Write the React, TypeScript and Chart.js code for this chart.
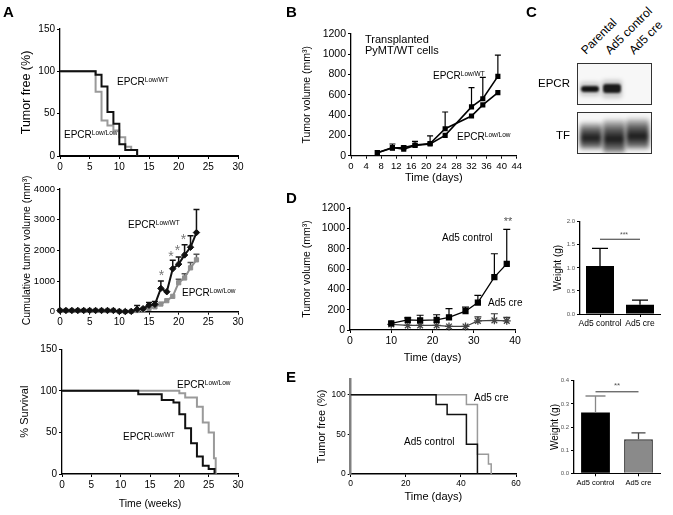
import React, { useEffect, useRef } from 'react';
import { Chart, registerables } from 'chart.js';
Chart.register(...registerables);

const FONT = "'Liberation Sans', Arial, Helvetica, sans-serif";

// ---------- Panel A (top): tumor free, weeks ----------
const a1WtWeeks = [0, 6, 7, 8, 9, 10, 11, 13];
const a1WtPct = [100, 96, 82, 52, 38, 14, 7, 0];
const a1LowWeeks = [0, 6, 7, 8, 9, 10, 11, 12, 13];
const a1LowPct = [100, 76, 42, 36, 30, 22, 11, 7, 0];

// ---------- Panel A (middle): cumulative tumor volume ----------
const a2Weeks = [0, 1, 2, 3, 4, 5, 6, 7, 8, 9, 10, 11, 12, 13, 14, 15, 16, 17, 18, 19, 20, 21, 22, 23];
const a2Wt = [40, 40, 40, 40, 40, 40, 40, 40, 40, 40, 10, 5, 10, 80, 100, 210, 240, 760, 650, 1400, 1550, 1850, 2100, 2580];
const a2WtErr = [null, null, null, null, null, null, null, null, null, null, null, null, null, 200, null, 300, 330, 1000, null, 1680, 1780, 2180, 2480, 3330];
const a2Low = [40, 40, 40, 40, 40, 40, 40, 40, 40, 40, 10, 5, 10, 40, 80, 110, 160, 250, 360, 500, 945, 1100, 1430, 1690];
const a2LowErr = [null, null, null, null, null, null, null, null, null, null, null, null, null, null, null, null, null, null, null, null, 1060, 1240, 1600, 1870];
const a2StarWeeks = [17.1, 18.7, 19.8, 20.8];
const a2StarVals = [1300, 1900, 2090, 2450];

// ---------- Panel A (bottom): survival ----------
const a3WtWeeks = [0, 13, 17, 19, 20, 21, 22, 23, 24, 25, 26];
const a3WtPct = [100, 96, 89, 86, 72, 55, 37, 21, 10, 6, 0];
const a3LowWeeks = [0, 20, 21, 23, 24, 25, 25.9, 26.2];
const a3LowPct = [100, 97, 92, 81, 62, 50, 19, 0];

// ---------- Panel B ----------
const bDays = [7, 11, 14, 17, 21, 25, 32, 35, 39];
const bWt = [30, 80, 65, 100, 115, 200, 480, 560, 780];
const bWtErr = [null, 115, 95, 140, 195, null, 670, 770, 990];
const bLow = [30, 75, 80, 105, 120, 265, 390, 500, 620];
const bLowErr = [null, null, null, null, null, 430, null, null, null];

// ---------- Panel D (line) ----------
const dDays = [10, 14, 17, 21, 24, 28, 31, 35, 38];
const dCtrl = [65, 100, 95, 100, 125, 185, 270, 520, 650];
const dCtrlErr = [null, 120, 145, 150, 210, 225, 340, 750, 990];
const dCre = [55, 45, 45, 45, 35, 35, 90, 95, 90];
const dCreErr = [null, null, null, null, null, null, 130, 160, 125];

// ---------- Panel D (bars) ----------
const dBarCats = ['Ad5 control', 'Ad5 cre'];
const dBarVals = [1.04, 0.2];
const dBarErr = [1.42, 0.3];

// ---------- Panel E (line) ----------
const eCtrlDays = [0, 31, 35, 42, 46];
const eCtrlPct = [100, 87.5, 75, 37.5, 0];
const eCreDays = [0, 42, 46, 50, 51];
const eCrePct = [100, 87.5, 25, 12.5, 0];

// ---------- Panel E (bars) ----------
const eBarCats = ['Ad5 control', 'Ad5 cre'];
const eBarVals = [0.263, 0.147];
const eBarErr = [0.334, 0.175];

// ================= helpers =================
type Geo = { l: number; t: number; r: number; b: number; yw: number; xh: number; pt: number; pr: number };

function pts(xs: number[], ys: number[]) {
  return xs.map((x, i) => ({ x, y: ys[i] }));
}

function axis(o: any) {
  return {
    type: 'linear',
    min: o.min,
    max: o.max,
    afterBuildTicks: o.ticks ? (s: any) => { s.ticks = o.ticks.map((v: number) => ({ value: v })); } : undefined,
    border: { display: true, color: o.bcolor ?? '#000', width: o.bw ?? 1.3 },
    grid: { display: true, drawOnChartArea: false, drawTicks: true, tickLength: o.tl ?? 3, color: o.gcolor ?? '#000', lineWidth: 1 },
    ticks: {
      stepSize: o.step,
      autoSkip: false,
      maxRotation: 0,
      minRotation: 0,
      padding: o.pad ?? 2,
      color: o.color ?? '#000',
      font: { family: FONT, size: o.size },
      callback: (v: any) => (o.fmt ? o.fmt(Number(v)) : String(v)),
    },
    title: o.title
      ? { display: true, text: o.title, color: '#000', font: { family: FONT, size: o.tsize }, padding: { top: o.tpad ?? 2, bottom: o.tpad ?? 2 } }
      : { display: false },
  };
}

function catAxis(size: number) {
  return {
    type: 'category',
    offset: true,
    border: { display: true, color: '#000', width: 1 },
    grid: { display: true, offset: false, drawOnChartArea: false, drawTicks: true, tickLength: 3, color: '#000' },
    ticks: { autoSkip: false, maxRotation: 0, minRotation: 0, padding: 2, color: '#000', font: { family: FONT, size } },
  };
}

function baseOptions(scales: any) {
  return {
    animation: false,
    responsive: false,
    maintainAspectRatio: false,
    devicePixelRatio: 1,
    events: [],
    plugins: { legend: { display: false }, tooltip: { enabled: false } },
    scales,
  };
}

function km(xs: number[], ys: number[], color: string, w: number) {
  return { data: pts(xs, ys), stepped: true, borderColor: color, backgroundColor: color, borderWidth: w, pointRadius: 0, fill: false, clip: false, tension: 0 };
}

type EB = { ds: number; err: (number | null)[]; color: string; cap: number; width: number };
function errorBars(items: EB[], after: boolean) {
  const draw = (chart: any) => {
    const ctx = chart.ctx;
    const ys = chart.scales.y;
    ctx.save();
    items.forEach((it) => {
      const meta = chart.getDatasetMeta(it.ds);
      ctx.strokeStyle = it.color;
      ctx.lineWidth = it.width;
      meta.data.forEach((el: any, i: number) => {
        const e = it.err[i];
        if (e == null) return;
        const x = el.x;
        const y0 = el.y;
        const y1 = ys.getPixelForValue(e);
        ctx.beginPath();
        ctx.moveTo(x, y0);
        ctx.lineTo(x, y1);
        ctx.moveTo(x - it.cap / 2, y1);
        ctx.lineTo(x + it.cap / 2, y1);
        ctx.stroke();
      });
    });
    ctx.restore();
  };
  return after ? { id: 'eb', afterDatasetsDraw: draw } : { id: 'eb', beforeDatasetsDraw: draw };
}

type Note = { t: string; x: number; y: number; size: number; color: string; dy?: number };
type NLine = { x0: number; x1: number; y: number; color: string; w: number };
function notes(texts: Note[], lines: NLine[]) {
  return {
    id: 'notes',
    afterDatasetsDraw(chart: any) {
      const { ctx } = chart;
      const xs = chart.scales.x;
      const ys = chart.scales.y;
      ctx.save();
      lines.forEach((ln) => {
        ctx.strokeStyle = ln.color;
        ctx.lineWidth = ln.w;
        const y = ys.getPixelForValue(ln.y);
        ctx.beginPath();
        ctx.moveTo(xs.getPixelForValue(ln.x0), y);
        ctx.lineTo(xs.getPixelForValue(ln.x1), y);
        ctx.stroke();
      });
      texts.forEach((n) => {
        ctx.fillStyle = n.color;
        ctx.font = `${n.size}px ${FONT}`;
        ctx.textAlign = 'center';
        ctx.textBaseline = 'middle';
        ctx.fillText(n.t, xs.getPixelForValue(n.x), ys.getPixelForValue(n.y) + (n.dy ?? 0));
      });
      ctx.restore();
    },
  };
}

function ChartBox({ geo, make }: { geo: Geo; make: () => any }) {
  const ref = useRef<HTMLCanvasElement | null>(null);
  const left = Math.round(geo.l - geo.yw);
  const top = Math.round(geo.t - geo.pt);
  const W = Math.round(geo.r + geo.pr - left);
  const H = Math.round(geo.b + geo.xh - top);
  const yw = geo.l - left;
  const pt = geo.t - top;
  const pr = W - (geo.r - left);
  const xh = H - (geo.b - top);
  useEffect(() => {
    const cfg = make();
    cfg.options.layout = { padding: { left: 0, top: pt, right: pr, bottom: 0 }, autoPadding: false };
    cfg.options.scales.x.afterFit = (s: any) => { s.height = xh; };
    cfg.options.scales.y.afterFit = (s: any) => { s.width = yw; };
    const ch = new Chart(ref.current as HTMLCanvasElement, cfg);
    return () => ch.destroy();
  }, []);
  return <canvas ref={ref} width={W} height={H} style={{ position: 'absolute', left, top, width: W, height: H }} />;
}

// ================= chart configs =================
const makeA1 = () => ({
  type: 'line',
  data: { datasets: [km(a1WtWeeks, a1WtPct, '#111', 2), km(a1LowWeeks, a1LowPct, '#9a9a9a', 2)] },
  options: baseOptions({
    x: axis({ min: 0, max: 30, step: 5, size: 10, bw: 2 }),
    y: axis({ min: 0, max: 150, step: 50, size: 10, title: 'Tumor free (%)', tsize: 12.5, tpad: 19.5 }),
  }),
});

const makeA2 = () => ({
  type: 'line',
  data: {
    datasets: [
      { data: pts(a2Weeks, a2Wt), borderColor: '#111', backgroundColor: '#111', borderWidth: 2, pointStyle: 'rectRot', pointRadius: 3.2, pointBorderWidth: 1, clip: false, tension: 0 },
      { data: pts(a2Weeks, a2Low), borderColor: '#8f8f8f', backgroundColor: '#8f8f8f', borderWidth: 2, pointStyle: 'rect', pointRadius: 3, pointBorderWidth: 1, clip: false, tension: 0 },
    ],
  },
  options: baseOptions({
    x: axis({ min: 0, max: 30, step: 5, size: 10, bw: 1.5 }),
    y: axis({ min: 0, max: 4000, step: 1000, size: 9.5, title: 'Cumulative tumor volume (mm³)', tsize: 10.5, tpad: 20.7 }),
  }),
  plugins: [
    errorBars([
      { ds: 0, err: a2WtErr, color: '#111', cap: 6, width: 1.5 },
      { ds: 1, err: a2LowErr, color: '#555', cap: 6, width: 1.5 },
    ], false),
    notes(a2StarWeeks.map((w, i) => ({ t: '*', x: w, y: a2StarVals[i], size: 14, color: '#777', dy: 4 })), []),
  ],
});

const makeA3 = () => ({
  type: 'line',
  data: { datasets: [km(a3WtWeeks, a3WtPct, '#111', 2), km(a3LowWeeks, a3LowPct, '#9a9a9a', 2)] },
  options: baseOptions({
    x: axis({ min: 0, max: 30, step: 5, size: 10, bw: 1.5, title: 'Time (weeks)', tsize: 10.5, tpad: 2 }),
    y: axis({ min: 0, max: 150, step: 50, size: 10, title: '% Survival', tsize: 11, tpad: 18.4 }),
  }),
});

const makeB = () => ({
  type: 'line',
  data: {
    datasets: [
      { data: pts(bDays, bWt), borderColor: '#000', backgroundColor: '#000', borderWidth: 1.6, pointStyle: 'rect', pointRadius: 2.5, clip: false, tension: 0 },
      { data: pts(bDays, bLow), borderColor: '#000', backgroundColor: '#000', borderWidth: 1.6, pointStyle: 'rect', pointRadius: 2.5, clip: false, tension: 0 },
    ],
  },
  options: baseOptions({
    x: axis({ min: 0, max: 44, step: 4, size: 9.5, bw: 1.3, title: 'Time (days)', tsize: 11, tpad: 2 }),
    y: axis({ min: 0, max: 1200, step: 200, size: 10.5, title: 'Tumor volume (mm³)', tsize: 10.5, tpad: 4.4 }),
  }),
  plugins: [
    errorBars([
      { ds: 0, err: bWtErr, color: '#000', cap: 6, width: 1.2 },
      { ds: 1, err: bLowErr, color: '#000', cap: 6, width: 1.2 },
    ], false),
  ],
});

const makeD = () => ({
  type: 'line',
  data: {
    datasets: [
      { data: pts(dDays, dCtrl), borderColor: '#000', backgroundColor: '#000', borderWidth: 1.3, pointStyle: 'rect', pointRadius: 3.5, clip: false, tension: 0 },
      { data: pts(dDays, dCre), borderColor: '#444', backgroundColor: '#444', borderWidth: 1.2, pointStyle: 'star', pointRadius: 4, pointBorderWidth: 1.3, clip: false, tension: 0 },
    ],
  },
  options: baseOptions({
    x: axis({ min: 0, max: 40, step: 10, size: 10.5, bw: 1.3, title: 'Time (days)', tsize: 11, tpad: 2 }),
    y: axis({ min: 0, max: 1200, step: 200, size: 10.5, title: 'Tumor volume (mm³)', tsize: 10.5, tpad: 5.4 }),
  }),
  plugins: [
    errorBars([
      { ds: 0, err: dCtrlErr, color: '#000', cap: 7, width: 1.2 },
      { ds: 1, err: dCreErr, color: '#333', cap: 7, width: 1.2 },
    ], false),
    notes([{ t: '**', x: 38.3, y: 1092, size: 11, color: '#555', dy: 3 }], []),
  ],
});

const makeDBar = () => ({
  type: 'bar',
  data: { labels: dBarCats, datasets: [{ data: dBarVals, backgroundColor: '#000', borderColor: '#000', borderWidth: 0, barPercentage: 0.7, categoryPercentage: 1 }] },
  options: baseOptions({
    x: catAxis(8.5),
    y: axis({ min: 0, max: 2, step: 0.5, size: 6, color: '#555', fmt: (v: number) => v.toFixed(1), title: 'Weight (g)', tsize: 10, tpad: 2 }),
  }),
  plugins: [
    errorBars([{ ds: 0, err: dBarErr, color: '#000', cap: 16, width: 1.3 }], true),
    notes([{ t: '***', x: 0.6, y: 1.75, size: 7, color: '#555', dy: 2 }], [{ x0: 0, x1: 1, y: 1.62, color: '#333', w: 1 }]),
  ],
});

const makeE = () => ({
  type: 'line',
  data: { datasets: [km(eCtrlDays, eCtrlPct, '#111', 1.5), km(eCreDays, eCrePct, '#9a9a9a', 1.5)] },
  options: baseOptions({
    x: axis({ min: 0, max: 60, step: 20, size: 8.5, bw: 1.5, title: 'Time (days)', tsize: 11, tpad: 2 }),
    y: axis({ min: 0, max: 120, ticks: [0, 50, 100], size: 8.5, bcolor: '#808080', bw: 2.5, title: 'Tumor free (%)', tsize: 11, tpad: 14.4 }),
  }),
});

const makeEBar = () => ({
  type: 'bar',
  data: {
    labels: eBarCats,
    datasets: [{ data: eBarVals, backgroundColor: ['#000', '#8a8a8a'], borderColor: ['#000', '#333'], borderWidth: [0, 1.5], barPercentage: 0.67, categoryPercentage: 1 }],
  },
  options: baseOptions({
    x: catAxis(7.5),
    y: axis({ min: 0, max: 0.4, step: 0.1, size: 6, color: '#555', fmt: (v: number) => v.toFixed(1), title: 'Weight (g)', tsize: 10, tpad: 3 }),
  }),
  plugins: [
    errorBars([
      { ds: 0, err: [eBarErr[0], null], color: '#888', cap: 20, width: 1.3 },
      { ds: 0, err: [null, eBarErr[1]], color: '#444', cap: 14, width: 1.3 },
    ], true),
    notes([{ t: '**', x: 0.5, y: 0.386, size: 8, color: '#555', dy: 2 }], [{ x0: 0, x1: 1, y: 0.352, color: '#333', w: 1 }]),
  ],
});

// ================= HTML pieces =================
function Txt({ x, y, size, children, color = '#000', bold = false }: any) {
  return (
    <div style={{ position: 'absolute', left: x, top: y - size * 0.6, fontSize: size, lineHeight: `${size * 1.2}px`, whiteSpace: 'nowrap', color, fontWeight: bold ? 700 : 400 }}>
      {children}
    </div>
  );
}

function Epcr({ x, y, sup }: { x: number; y: number; sup: string }) {
  return (
    <Txt x={x} y={y} size={10}>
      EPCR<span style={{ fontSize: 6.5, verticalAlign: 'top', lineHeight: '8px' }}>{sup}</span>
    </Txt>
  );
}

function Band({ l, t, w, h, bg, blur }: any) {
  return <div style={{ position: 'absolute', left: l, top: t, width: w, height: h, background: bg, filter: `blur(${blur}px)`, borderRadius: 3 }} />;
}

function Rot({ x, y, text }: { x: number; y: number; text: string }) {
  return (
    <div style={{ position: 'absolute', left: x, top: y - 14, fontSize: 12, lineHeight: '14px', transform: 'rotate(-45deg)', transformOrigin: '0 100%', whiteSpace: 'nowrap' }}>
      {text}
    </div>
  );
}

function Blot() {
  const box: any = { position: 'absolute', left: 577, width: 75, height: 42, border: '1px solid #333', background: '#f7f7f7', overflow: 'hidden', boxSizing: 'border-box' };
  const tf = 'linear-gradient(to bottom, rgba(0,0,0,0.1) 0%, rgba(0,0,0,0.6) 28%, rgba(0,0,0,0.92) 58%, rgba(0,0,0,0.5) 88%, rgba(0,0,0,0.08) 100%)';
  return (
    <>
      <Rot x={588} y={57} text="Parental" />
      <Rot x={612} y={57} text="Ad5 control" />
      <Rot x={636} y={57} text="Ad5 cre" />
      <Txt x={538} y={84} size={11.5}>EPCR</Txt>
      <Txt x={556} y={136} size={11.5}>TF</Txt>
      <div style={{ ...box, top: 63 }}>
        <Band l={2} t={18} w={20} h={14} bg="rgba(0,0,0,0.18)" blur={2} />
        <Band l={3} t={22} w={18} h={6} bg="#141414" blur={1.1} />
        <Band l={24} t={16} w={20} h={18} bg="rgba(0,0,0,0.2)" blur={2} />
        <Band l={25} t={20} w={18} h={9} bg="#1a1a1a" blur={1.1} />
      </div>
      <div style={{ ...box, top: 112 }}>
        <Band l={2} t={9} w={22} h={28} bg={tf} blur={2} />
        <Band l={25} t={6} w={22} h={35} bg={tf} blur={2} />
        <Band l={48} t={5} w={23} h={32} bg={tf} blur={2} />
      </div>
    </>
  );
}

export default function App() {
  return (
    <div style={{ position: 'fixed', left: 0, top: 0, width: 673, height: 515, background: '#fff', overflow: 'hidden', fontFamily: FONT, color: '#000' }}>
      <ChartBox geo={{ l: 60, t: 29, r: 238, b: 156, yw: 60, xh: 20, pt: 10, pr: 12 }} make={makeA1} />
      <ChartBox geo={{ l: 60, t: 189, r: 238, b: 311.7, yw: 60, xh: 20, pt: 30, pr: 12 }} make={makeA2} />
      <ChartBox geo={{ l: 62, t: 349.3, r: 238, b: 474, yw: 62, xh: 38.3, pt: 10, pr: 12 }} make={makeA3} />
      <ChartBox geo={{ l: 351, t: 33.7, r: 516.7, b: 155.7, yw: 55, xh: 30.9, pt: 10, pr: 10 }} make={makeB} />
      <ChartBox geo={{ l: 350, t: 208, r: 515, b: 330, yw: 55, xh: 36.6, pt: 10, pr: 10 }} make={makeD} />
      <ChartBox geo={{ l: 580, t: 221.7, r: 660, b: 314, yw: 30, xh: 20, pt: 8, pr: 8 }} make={makeDBar} />
      <ChartBox geo={{ l: 350.7, t: 378.8, r: 516, b: 474, yw: 50, xh: 31.6, pt: 8, pr: 10 }} make={makeE} />
      <ChartBox geo={{ l: 574, t: 380.7, r: 660, b: 473.3, yw: 28, xh: 22, pt: 8, pr: 8 }} make={makeEBar} />

      <Txt x={3} y={12} size={15} bold>A</Txt>
      <Txt x={286} y={12} size={15} bold>B</Txt>
      <Txt x={526} y={12} size={15} bold>C</Txt>
      <Txt x={286} y={198} size={15} bold>D</Txt>
      <Txt x={286} y={377} size={15} bold>E</Txt>

      <Epcr x={117} y={82} sup="Low/WT" />
      <Epcr x={64} y={135} sup="Low/Low" />
      <Epcr x={128} y={225} sup="Low/WT" />
      <Epcr x={182} y={293} sup="Low/Low" />
      <Epcr x={177} y={385} sup="Low/Low" />
      <Epcr x={123} y={437} sup="Low/WT" />

      <Txt x={365} y={39.5} size={11}>Transplanted</Txt>
      <Txt x={365} y={51} size={11}>PyMT/WT cells</Txt>
      <Epcr x={433} y={76} sup="Low/WT" />
      <Epcr x={457} y={137} sup="Low/Low" />

      <Txt x={442} y={238} size={10}>Ad5 control</Txt>
      <Txt x={488} y={303} size={10}>Ad5 cre</Txt>
      <Txt x={474} y={398} size={10}>Ad5 cre</Txt>
      <Txt x={404} y={442} size={10}>Ad5 control</Txt>

      <Blot />
    </div>
  );
}
